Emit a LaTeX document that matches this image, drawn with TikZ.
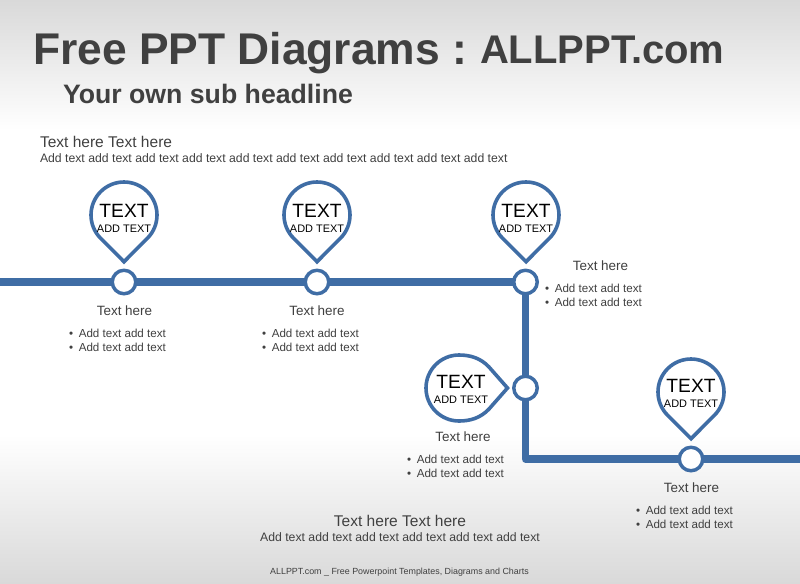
\documentclass[tikz,border=0pt]{standalone}
\usepackage{fontspec}
\setmainfont{Liberation Sans}
\usetikzlibrary{positioning}
\pgfdeclarelayer{backdrop}
\pgfdeclarelayer{rail}
\pgfsetlayers{backdrop,rail,main}
\definecolor{railblue}{HTML}{3F6DA5}
\definecolor{bodygrey}{HTML}{404040}
\definecolor{bggrey}{HTML}{D9D9D9}
\newcommand{\fs}[2]{\fontsize{#1}{#2}\selectfont}
\tikzset{
  x=0.75pt,y=-0.75pt,
  every node/.style={inner sep=0pt,outer sep=0pt,text=bodygrey},
  railline/.style={draw=railblue,line width=5.5pt,line join=round},
  marker/.style={circle,draw=railblue,fill=white,line width=2.6pt,minimum size=17.6pt},
  pinline/.style={draw=railblue,fill=white,line width=2.7pt,line join=miter},
  pinshape/.pic={\path[pinline] (0,46.7) -- (45:33) arc[start angle=45,end angle=-225,radius=33] -- cycle;},
  sidepinshape/.pic={\path[pinline] (48.5,0) -- (30,-21) .. controls (22,-29.5) and (12,-33) .. (0,-33) arc[start angle=-90,end angle=-270,radius=33] .. controls (12,33) and (22,29.5) .. (30,21) -- cycle;},
  pinbig/.style={text=black,font=\fs{14.4}{16}},
  pinsmall/.style={text=black,font=\fs{8.2}{10}},
  head/.style={font=\fs{10.1}{12}},
  bullets/.style={anchor=north west,align=left,font=\fs{8.7}{10.5}},
}
\newcommand{\bl}{\textbullet\hspace{4.3pt}}
\begin{document}
\begin{tikzpicture}
\useasboundingbox (0,0) rectangle (800,583);
\begin{pgfonlayer}{backdrop}
  \fill[white] (0,0) rectangle (800,583);
  \shade[top color=bggrey,bottom color=white] (0,0) rectangle (800,130);
  \shade[top color=white,bottom color=bggrey] (0,435) rectangle (800,583);
\end{pgfonlayer}

% titles
\node[anchor=base west,font=\bfseries\fs{33.3}{40}] (title) at (33,64) {Free PPT Diagrams :};
\node[anchor=base west,font=\bfseries\fs{30}{34}] (titleb) at (480,63.5) {ALLPPT.com};
\node[anchor=base west,font=\bfseries\fs{20}{24}] (sub) at (63,103) {Your own sub headline};
\node[anchor=base west,font=\fs{11.65}{14}] (lead) at (40,147.5) {Text here Text here};
\node[anchor=base west,font=\fs{9.18}{11}] (leadb) at (40,162.5) {Add text add text add text add text add text add text add text add text add text add text};

% rail markers
\coordinate (railstart) at (0,282);
\coordinate (railbend) at (525.5,459);
\coordinate (railend) at (800,459);
\node[marker] (m1) at (124,282) {};
\node[marker] (m2) at (317,282) {};
\node[marker] (m3) at (525.5,282) {};
\node[marker] (m4) at (525.5,388) {};
\node[marker] (m5) at (691,459) {};
\begin{pgfonlayer}{rail}
  \draw[railline] (railstart) -- (m1.center) -- (m2.center) -- (m3.center) -- (m4.center) -- (railbend) -- (m5.center) -- (railend);
\end{pgfonlayer}

% pins
\pic at (124,215) {pinshape};
\node[pinbig] (p1a) at (124,210.5) {TEXT};
\node[pinsmall] (p1b) at (124,228.5) {ADD TEXT};
\pic at (317,215) {pinshape};
\node[pinbig] (p2a) at (317,210.5) {TEXT};
\node[pinsmall] (p2b) at (317,228.5) {ADD TEXT};
\pic at (526,215) {pinshape};
\node[pinbig] (p3a) at (526,210.5) {TEXT};
\node[pinsmall] (p3b) at (526,228.5) {ADD TEXT};
\pic at (459,388) {sidepinshape};
\node[pinbig] (p4a) at (461,381.5) {TEXT};
\node[pinsmall] (p4b) at (461,399.5) {ADD TEXT};
\pic at (691,392) {pinshape};
\node[pinbig] (p5a) at (691,385.5) {TEXT};
\node[pinsmall] (p5b) at (691,403.5) {ADD TEXT};

% captions
\node[head] (c1) at (124.5,310.5) {Text here};
\node[bullets] (b1) at (69,329.5) {\bl Add text add text\\\bl Add text add text};
\node[head] (c2) at (317,310.5) {Text here};
\node[bullets] (b2) at (262,329.5) {\bl Add text add text\\\bl Add text add text};
\node[head] (c3) at (600.5,265.5) {Text here};
\node[bullets] (b3) at (545,284.5) {\bl Add text add text\\\bl Add text add text};
\node[head] (c4) at (463,436.5) {Text here};
\node[bullets] (b4) at (407,455.5) {\bl Add text add text\\\bl Add text add text};
\node[head] (c5) at (691.5,487.5) {Text here};
\node[bullets] (b5) at (636,506.5) {\bl Add text add text\\\bl Add text add text};

% closing text
\node[font=\fs{11.65}{14}] (foot) at (400,521) {Text here Text here};
\node[font=\fs{9.18}{11}] (footb) at (400,537) {Add text add text add text add text add text add text};
\node[font=\fs{6.67}{8}] (credit) at (399.5,572) {ALLPPT.com \_ Free Powerpoint Templates, Diagrams and Charts};
\end{tikzpicture}
\end{document}
